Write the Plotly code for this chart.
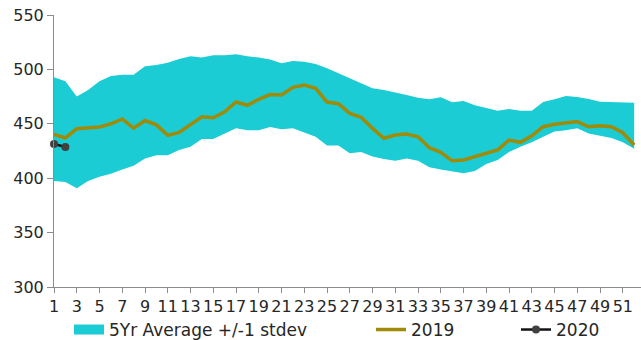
import plotly.graph_objects as go

weeks = list(range(1, 53))
tick_weeks = list(range(1, 53, 2))

band_upper = [492.7, 489, 475, 481, 489, 494, 495, 495, 503, 504, 506, 509.5, 512, 511, 513, 513,
              514, 512, 511, 509, 505.6, 507.7, 507, 505, 501, 496.4, 492.4, 487.8, 482.6, 481,
              479, 476.5, 474, 472.5, 474.3, 469.8, 471, 467, 464.5, 462, 463.6, 462, 462, 470,
              472.5, 475.5, 474.6, 472.8, 470.3, 469.8, 469.4, 469.4]
band_lower = [397.4, 396.5, 390.7, 397.4, 401.4, 404, 408, 411.5, 418, 421, 421, 426, 429, 436,
              436, 441, 446, 444, 444, 447, 445, 446, 442, 438, 430, 430, 423, 424, 420, 417.6,
              416, 418, 416, 410, 408, 406, 404.5, 406.6, 413, 416.7, 424, 429, 433, 438, 443,
              444, 446, 441, 439, 437, 433, 427]
y2019 = [440.3, 437, 445.5, 446, 447, 450, 454.4, 446, 453, 449, 439.4, 442, 449, 456.5, 455.6,
         461, 470, 467, 472.5, 477, 476.5, 483.5, 485.7, 482.6, 470, 468.4, 459.6, 456, 445.8,
         436.7, 439.7, 440.6, 438, 428, 423.8, 416, 416.7, 419.8, 423.4, 426, 435, 433, 439,
         447.3, 449.5, 450.4, 452, 447.3, 448.3, 447.3, 441.8, 430.5]
weeks2020 = [1, 2]
y2020 = [431.4, 428.7]

BAND = "#1BCCD4"
GOLD = "#A08A0A"
FONT = "DejaVu Sans"

fig = go.Figure()
fig.add_trace(go.Scatter(x=weeks, y=band_lower, mode="lines", line=dict(width=0, color=BAND),
                         showlegend=False, hoverinfo="skip"))
fig.add_trace(go.Scatter(x=weeks, y=band_upper, mode="lines", line=dict(width=0, color=BAND),
                         fill="tonexty", fillcolor=BAND, showlegend=False, hoverinfo="skip"))
# legend entry for band
fig.add_trace(go.Scatter(x=[None], y=[None], mode="lines", line=dict(width=10, color=BAND),
                         name="5Yr Average +/-1 stdev", legend="legend"))
fig.add_trace(go.Scatter(x=weeks, y=y2019, mode="lines", line=dict(width=3.5, color=GOLD),
                         name="2019", legend="legend2"))
fig.add_trace(go.Scatter(x=weeks2020, y=y2020, mode="lines+markers", cliponaxis=False,
                         line=dict(width=2.5, color="#111111"),
                         marker=dict(size=8, color="#404040"),
                         name="2020", legend="legend3"))

W0, PW = 54, 587
def px(x):
    return (x - W0) / PW

leg_common = dict(orientation="h", yanchor="middle", y=-0.158, xanchor="left",
                  font=dict(family=FONT, size=17, color="#262626"),
                  bgcolor="rgba(0,0,0,0)", borderwidth=0)

fig.update_layout(
    width=641, height=340,
    margin=dict(l=54, r=0, t=15, b=53, autoexpand=False),
    paper_bgcolor="white", plot_bgcolor="white",
    font=dict(family=FONT, size=16, color="#262626"),
    xaxis=dict(range=[1, 52.6], tickmode="array", tickvals=tick_weeks,
               ticktext=[str(t) for t in tick_weeks], tickangle=0, automargin=False,
               showgrid=False, zeroline=False, showline=True, linecolor="#8c8c8c",
               linewidth=1, ticks="outside", ticklen=5, tickcolor="#8c8c8c",
               tickfont=dict(family=FONT, size=16, color="#262626")),
    yaxis=dict(range=[300, 550], tickvals=[300, 350, 400, 450, 500, 550], automargin=False,
               showgrid=False, zeroline=False, showline=True, linecolor="#8c8c8c",
               linewidth=1, ticks="outside", ticklen=6, tickcolor="#8c8c8c",
               tickfont=dict(family=FONT, size=16, color="#262626")),
    legend=dict(x=px(69), **leg_common),
    legend2=dict(x=px(371), **leg_common),
    legend3=dict(x=px(516), **leg_common),
)

fig.write_html("out.html", config={"displayModeBar": False},
               post_script="document.body.style.margin='0';document.body.style.overflow='hidden';")
